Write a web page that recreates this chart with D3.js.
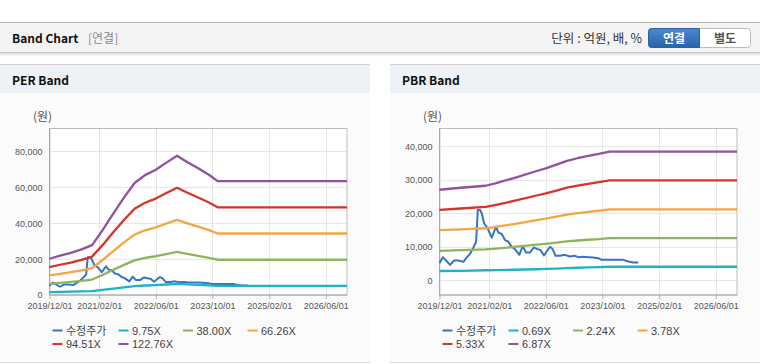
<!DOCTYPE html>
<html><head><meta charset="utf-8">
<script src="https://cdn.jsdelivr.net/npm/d3@7/dist/d3.min.js"></script>
<style>
html,body{margin:0;padding:0;background:#fff;}
svg{display:block;font-family:"Liberation Sans",Arial,"Noto Sans CJK KR",sans-serif;}
</style></head>
<body><svg id="c" width="760" height="364"></svg>
<script>
// ---------------- data ----------------
const xTickLabels = ["2019/12/01","2021/02/01","2022/06/01","2023/10/01","2025/02/01","2026/06/01"];
const xDomain = ["2019-12-01","2026-12-01"];

const priceDates = ["2019-12-01","2019-12-29","2020-01-26","2020-03-01","2020-04-05","2020-05-12","2020-06-24","2020-07-17","2020-08-20","2020-09-18","2020-10-11","2020-10-25","2020-11-14","2020-11-28","2020-12-18","2021-01-04","2021-01-24","2021-02-22","2021-03-14","2021-03-31","2021-04-20","2021-05-19","2021-06-16","2021-07-15","2021-08-13","2021-09-10","2021-10-17","2021-11-15","2021-12-14","2022-01-17","2022-02-20","2022-03-21","2022-04-18","2022-05-17","2022-06-09","2022-07-08","2022-07-30","2022-08-25","2022-10-01","2022-11-13","2022-12-26","2023-02-07","2023-03-08","2023-04-20","2023-06-02","2023-07-14","2023-08-26","2023-09-24","2024-01-02","2024-03-28","2024-05-10","2024-06-22","2024-08-04"];
const priceValues = [5100,6900,5900,4600,5900,5900,5500,6600,7900,9800,11500,21000,21000,20000,17000,16200,15000,12700,14500,16000,14200,13800,12000,11500,10000,9300,7600,10200,8300,8300,9800,9300,9000,7400,8600,10000,9300,7300,7300,7600,7100,7300,6900,7000,6900,6800,6600,6100,6100,6100,5600,5300,5300];

// PER band
const perDates = ["2019-12-01","2020-03-01","2020-06-01","2020-09-01","2020-12-01","2021-03-01","2021-06-01","2021-09-01","2021-12-01","2022-03-01","2022-06-01","2022-09-01","2022-12-01","2023-03-01","2023-06-01","2023-09-01","2023-11-15","2026-12-01"];
const perLabels = ["수정주가","9.75X","38.00X","66.26X","94.51X","122.76X"];
const per975  = [1600,1740,1870,2020,2210,2870,3600,4310,4950,5300,5540,5860,6160,5880,5610,5320,5040,5040];
const per3800 = [6250,6780,7270,7860,8600,11170,14050,16810,19310,20670,21600,22840,24020,22900,21850,20740,19650,19650];
const per6626 = [10900,11820,12690,13710,15010,19490,24510,29310,33680,36060,37680,39840,41890,39950,38110,36170,34280,34280];
const per9451 = [15550,16860,18090,19560,21400,27790,34950,41810,48040,51430,53740,56820,59740,56970,54350,51580,48890,48890];
const per12276= [20200,21900,23500,25400,27800,36100,45400,54300,62400,66800,69800,73800,77600,74000,70600,67000,63500,63500];
const perYTicks = [0,20000,40000,60000,80000];
const perYDomain = [0,92800];

// PBR band
const pbrDates = ["2019-12-01","2020-06-01","2021-01-01","2021-04-01","2021-09-01","2022-03-15","2022-06-01","2022-09-01","2022-12-01","2023-03-01","2023-06-01","2023-09-01","2023-12-01","2026-12-01"];
const pbrLabels = ["수정주가","0.69X","2.24X","3.78X","5.33X","6.87X"];
const pbr069 = [2780,2800,3000,3050,3150,3300,3400,3500,3650,3750,3850,3950,4050,4050];
const pbr224 = [8800,9000,9200,9460,9950,10630,10890,11250,11610,11870,12100,12290,12600,12600];
const pbr378 = [14950,15190,15520,15960,16780,17940,18380,18980,19590,20030,20410,20740,21130,21130];
const pbr533 = [21000,21410,21880,22500,23660,25290,25910,26770,27620,28240,28780,29250,29790,29790];
const pbr687 = [27000,27600,28200,29000,30500,32600,33400,34500,35600,36400,37100,37700,38400,38400];
const pbrYTicks = [0,10000,20000,30000,40000];
const pbrYDomain = [-4380,45270];

const seriesColors = ["#3474c0","#1db3c7","#8fb45a","#f2a541","#d63329","#9150a0"];

// ---------------- drawing ----------------
const svg = d3.select("#c");
const parse = d3.timeParse("%Y-%m-%d");
const parseTick = d3.timeParse("%Y/%m/%d");
const KR = "'Noto Sans CJK KR','Noto Sans',sans-serif";

const defs = svg.append("defs");
const sh = defs.append("linearGradient").attr("id","shadow").attr("x1",0).attr("x2",0).attr("y1",0).attr("y2",1);
sh.append("stop").attr("offset","0%").attr("stop-color","rgba(0,0,0,0.13)");
sh.append("stop").attr("offset","100%").attr("stop-color","rgba(0,0,0,0)");
const bl = defs.append("linearGradient").attr("id","btn").attr("x1",0).attr("x2",0).attr("y1",0).attr("y2",1);
bl.append("stop").attr("offset","0%").attr("stop-color","#4a8ad0");
bl.append("stop").attr("offset","100%").attr("stop-color","#2863a9");

// top header
svg.append("line").attr("x1",0).attr("x2",760).attr("y1",22.5).attr("y2",22.5).attr("stroke","#b4b4b4");
svg.append("rect").attr("x",0).attr("y",23).attr("width",760).attr("height",29.5).attr("fill","#f4f4f4");
svg.append("line").attr("x1",0).attr("x2",760).attr("y1",52.5).attr("y2",52.5).attr("stroke","#c4c4c4");
svg.append("rect").attr("x",0).attr("y",53).attr("width",760).attr("height",4).attr("fill","url(#shadow)");
svg.append("text").attr("x",12).attr("y",43).attr("font-size",12).attr("font-weight","bold").attr("fill","#111")
  .attr("font-family",KR).text("Band Chart");
svg.append("text").attr("x",88).attr("y",43).attr("font-size",12).attr("fill","#8a8a8a")
  .attr("font-family",KR).text("[연결]");
svg.append("text").attr("x",642).attr("y",43).attr("font-size",12.5).attr("fill","#333").attr("text-anchor","end")
  .attr("font-family",KR).text("단위 : 억원, 배, %");
// buttons
svg.append("path").attr("d","M651.5,28.5 H747.5 Q750.5,28.5 750.5,31.5 V44.5 Q750.5,47.5 747.5,47.5 H651.5 Q648.5,47.5 648.5,44.5 V31.5 Q648.5,28.5 651.5,28.5 Z")
  .attr("fill","#fff").attr("stroke","#bcbcbc");
svg.append("path").attr("d","M651.5,28.5 H699.5 V47.5 H651.5 Q648.5,47.5 648.5,44.5 V31.5 Q648.5,28.5 651.5,28.5 Z")
  .attr("fill","url(#btn)").attr("stroke","#2a62a6");
svg.append("text").attr("x",674).attr("y",42.5).attr("text-anchor","middle").attr("font-size",12).attr("font-weight","bold")
  .attr("fill","#fff").attr("font-family",KR).text("연결");
svg.append("text").attr("x",725).attr("y",42.5).attr("text-anchor","middle").attr("font-size",12).attr("font-weight","bold")
  .attr("fill","#555").attr("font-family",KR).text("별도");

function panel(x0, title, cfg){
  const g = svg.append("g");
  g.append("rect").attr("x",x0).attr("y",64).attr("width",370).attr("height",299).attr("fill","#fbfbfb");
  g.append("rect").attr("x",x0).attr("y",64).attr("width",370).attr("height",29).attr("fill","#eef1f6");
  g.append("line").attr("x1",x0).attr("x2",x0+370).attr("y1",64.5).attr("y2",64.5).attr("stroke","#d2d2d2");
  g.append("line").attr("x1",x0).attr("x2",x0+370).attr("y1",362.5).attr("y2",362.5).attr("stroke","#dcdcdc");
  g.append("text").attr("x",x0+12).attr("y",85).attr("font-size",12).attr("font-weight","bold").attr("fill","#111")
    .attr("font-family",KR).text(title);

  const left = x0+49.5, right = x0+347, top = 128.5, bottom = 295;
  const x = d3.scaleTime().domain(xDomain.map(parse)).range([left,right]);
  const y = d3.scaleLinear().domain(cfg.yDomain).range([bottom,top]);
  g.append("rect").attr("x",left).attr("y",top).attr("width",right-left).attr("height",bottom-top).attr("fill","#fff");

  const tickDates = xTickLabels.map(parseTick);
  // grid
  g.append("g").selectAll("line").data(cfg.yTicks).join("line")
    .attr("x1",left).attr("x2",right).attr("y1",d=>Math.round(y(d))+0.5).attr("y2",d=>Math.round(y(d))+0.5)
    .attr("stroke","#e6e6e6");
  g.append("g").selectAll("line").data(tickDates).join("line")
    .attr("y1",top).attr("y2",bottom).attr("x1",d=>Math.round(x(d))+0.5).attr("x2",d=>Math.round(x(d))+0.5)
    .attr("stroke","#e6e6e6");
  // frame
  g.append("rect").attr("x",left).attr("y",top).attr("width",right-left).attr("height",bottom-top)
    .attr("fill","none").attr("stroke","#bdbdbd");
  g.append("line").attr("x1",left).attr("x2",left).attr("y1",top).attr("y2",bottom).attr("stroke","#a9a9a9");
  g.append("line").attr("x1",left).attr("x2",right).attr("y1",bottom).attr("y2",bottom).attr("stroke","#a9a9a9");

  // axes
  const xAxis = d3.axisBottom(x).tickValues(tickDates).tickSize(4).tickSizeOuter(0).tickPadding(4)
    .tickFormat((d,i)=>xTickLabels[i]);
  const xa = g.append("g").attr("transform",`translate(0,${bottom})`).call(xAxis);
  xa.select(".domain").remove();
  xa.selectAll("line").attr("stroke","#b0b0b0");
  xa.selectAll("text").attr("font-size",9).attr("fill","#555").attr("font-family","'Liberation Sans',Arial,sans-serif");

  const yAxis = d3.axisLeft(y).tickValues(cfg.yTicks).tickSize(0).tickPadding(7).tickFormat(d3.format(","));
  const ya = g.append("g").attr("transform",`translate(${left},0)`).call(yAxis);
  ya.select(".domain").remove();
  ya.selectAll("text").attr("font-size",9).attr("fill","#555").attr("font-family","'Liberation Sans',Arial,sans-serif");

  g.append("text").attr("x",x0+33).attr("y",121).attr("font-size",12).attr("fill","#555")
    .attr("font-family",KR).text("(원)");

  // lines
  const line = d3.line().x(d=>x(d[0])).y(d=>y(d[1]));
  const priceData = priceDates.map((d,i)=>[parse(d),priceValues[i]]);
  g.append("path").datum(priceData).attr("d",line).attr("fill","none").attr("stroke",seriesColors[0])
    .attr("stroke-width",2).attr("stroke-linejoin","round");
  cfg.bands.forEach((vals,k)=>{
    const data = cfg.dates.map((d,i)=>[parse(d),vals[i]]);
    g.append("path").datum(data).attr("d",line).attr("fill","none").attr("stroke",seriesColors[k+1])
      .attr("stroke-width",2.3).attr("stroke-linejoin","round");
  });

  // legend
  const colOff = [0,66,130.5,195];
  cfg.labels.forEach((lab,i)=>{
    const row = Math.floor(i/4), col = i%4;
    const lx = left+3+colOff[col], ly = 330.5 + row*13.5;
    g.append("line").attr("x1",lx).attr("x2",lx+10).attr("y1",ly).attr("y2",ly)
      .attr("stroke",seriesColors[i]).attr("stroke-width",2);
    g.append("text").attr("x",lx+13.5).attr("y",ly+4).attr("font-size",11).attr("fill","#444")
      .attr("font-family","'Liberation Sans',Arial,'Noto Sans CJK KR',sans-serif").text(lab);
  });
}

panel(0,"PER Band",{yDomain:perYDomain,yTicks:perYTicks,dates:perDates,
  bands:[per975,per3800,per6626,per9451,per12276],labels:perLabels});
panel(390,"PBR Band",{yDomain:pbrYDomain,yTicks:pbrYTicks,dates:pbrDates,
  bands:[pbr069,pbr224,pbr378,pbr533,pbr687],labels:pbrLabels});
</script></body></html>
